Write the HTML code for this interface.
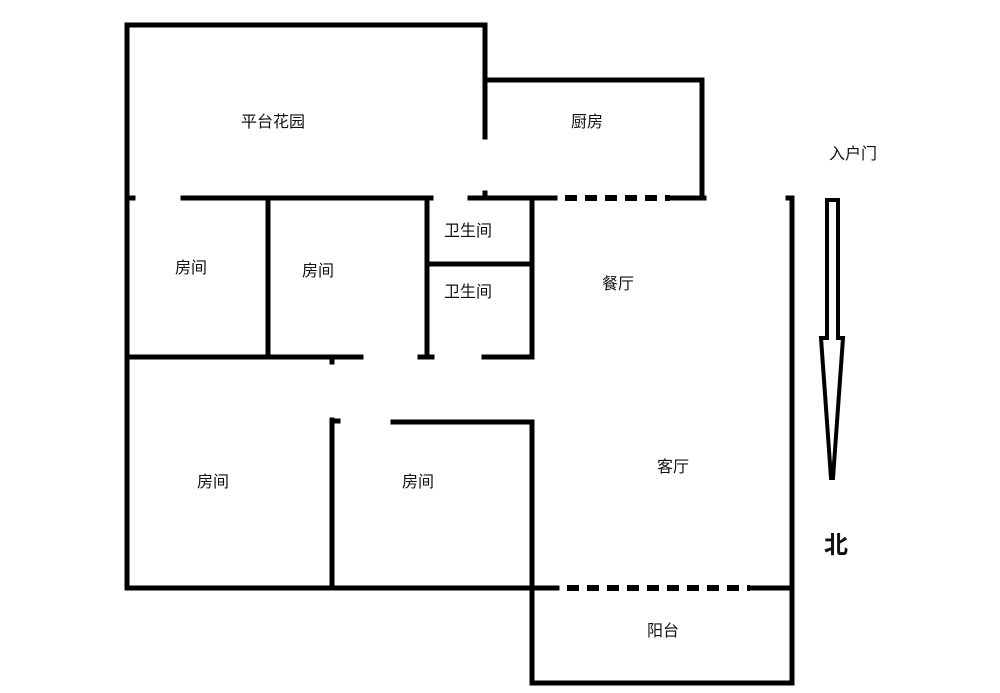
<!DOCTYPE html>
<html><head><meta charset="utf-8"><style>
html,body{margin:0;padding:0;background:#fff;width:1000px;height:693px;overflow:hidden}
text{font-family:"Liberation Sans","Noto Sans CJK SC",sans-serif;font-size:16px;fill:#111}
</style></head><body>
<svg width="1000" height="693" viewBox="0 0 1000 693">
<g stroke="#000" stroke-width="5" fill="none" stroke-linecap="square">
<!-- garden -->
<polyline points="127,588 127,25 485,25 485,137"/>
<line x1="485" y1="193" x2="485" y2="197"/>
<!-- kitchen -->
<polyline points="485,80 702,80 702,197"/>
<line x1="470" y1="198" x2="555" y2="198"/>
<line x1="672" y1="198" x2="704" y2="198"/>
<line x1="183" y1="198" x2="431" y2="198"/>
<line x1="127" y1="198" x2="133" y2="198"/>
<line x1="268" y1="198" x2="268" y2="357"/>
<line x1="127" y1="357" x2="361" y2="357"/>
<line x1="332" y1="357" x2="332" y2="362"/>
<line x1="427" y1="198" x2="427" y2="357"/>
<line x1="420" y1="357" x2="432" y2="357"/>
<line x1="427" y1="264" x2="532" y2="264"/>
<line x1="532" y1="198" x2="532" y2="357"/>
<line x1="484" y1="357" x2="532" y2="357"/>
<!-- lower rooms -->
<polyline points="393,422 532,422 532,683 792,683 792,198 788,198"/>
<line x1="332" y1="420" x2="332" y2="588"/>
<line x1="332" y1="421" x2="338" y2="421"/>
<line x1="127" y1="588" x2="557" y2="588"/>
<line x1="752" y1="588" x2="792" y2="588"/>
</g>
<g stroke="#000" stroke-width="6" stroke-dasharray="12,8">
<line x1="565" y1="198" x2="670" y2="198"/>
<line x1="567" y1="588" x2="750" y2="588"/>
</g>
<!-- arrow -->
<path d="M827,200 L838,200 L838,338 L843,338 L833,478 L831,478 L821,338 L827,338 Z" fill="none" stroke="#000" stroke-width="4" stroke-linejoin="miter"/>
<text x="273" y="127" text-anchor="middle">平台花园</text>
<text x="587" y="127" text-anchor="middle">厨房</text>
<text x="853" y="159" text-anchor="middle" font-size="15">入户门</text>
<text x="191" y="273" text-anchor="middle">房间</text>
<text x="318" y="276" text-anchor="middle">房间</text>
<text x="468" y="236" text-anchor="middle">卫生间</text>
<text x="468" y="297" text-anchor="middle">卫生间</text>
<text x="618" y="289" text-anchor="middle">餐厅</text>
<text x="213" y="487" text-anchor="middle">房间</text>
<text x="418" y="487" text-anchor="middle">房间</text>
<text x="673" y="472" text-anchor="middle">客厅</text>
<text x="663" y="636" text-anchor="middle">阳台</text>
<text x="836" y="553" text-anchor="middle" style="font-size:24px;font-weight:bold">北</text>
</svg>
</body></html>
